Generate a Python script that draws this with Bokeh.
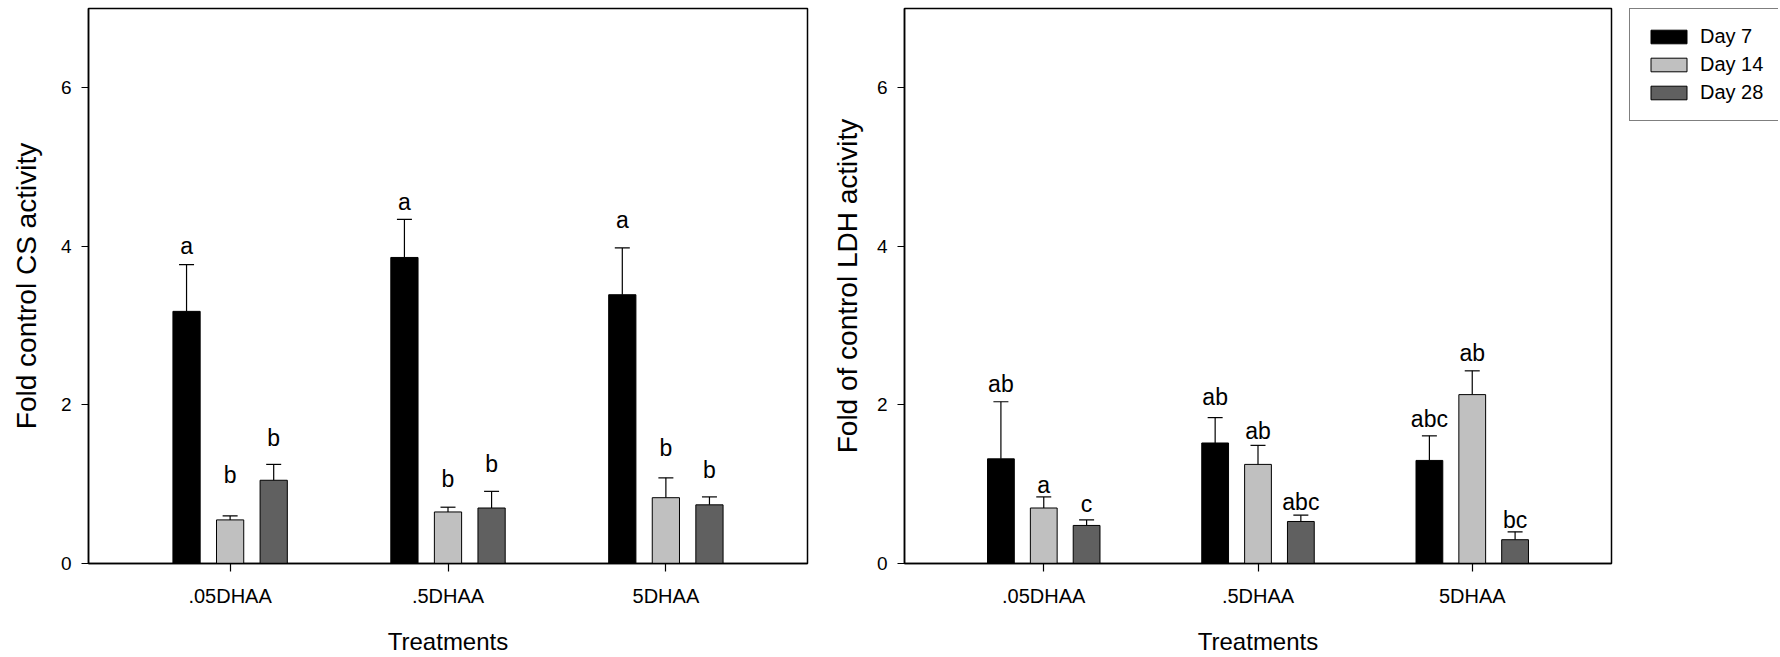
from bokeh.plotting import figure
from bokeh.models import (ColumnDataSource, Whisker, TeeHead, Legend, LegendItem,
                          FixedTicker, Range1d)
from bokeh.layouts import row
from bokeh.embed import file_html
from bokeh.resources import INLINE
from bokeh.core.properties import value

# ---------------- data ----------------
treatments = [".05DHAA", ".5DHAA", "5DHAA"]
days = ["Day 7", "Day 14", "Day 28"]

# CS activity (left panel)
cs_day7 = [3.18, 3.86, 3.39]
cs_day7_err = [0.59, 0.48, 0.59]
cs_day14 = [0.55, 0.65, 0.83]
cs_day14_err = [0.05, 0.06, 0.25]
cs_day28 = [1.05, 0.70, 0.74]
cs_day28_err = [0.20, 0.21, 0.10]
cs_day7_letters = ["a", "a", "a"]
cs_day14_letters = ["b", "b", "b"]
cs_day28_letters = ["b", "b", "b"]
cs_day7_letter_y = [4.01, 4.56, 4.33]
cs_day14_letter_y = [1.12, 1.06, 1.455]
cs_day28_letter_y = [1.58, 1.255, 1.18]

# LDH activity (right panel)
ldh_day7 = [1.32, 1.52, 1.30]
ldh_day7_err = [0.72, 0.32, 0.31]
ldh_day14 = [0.70, 1.25, 2.13]
ldh_day14_err = [0.14, 0.24, 0.30]
ldh_day28 = [0.48, 0.53, 0.30]
ldh_day28_err = [0.07, 0.08, 0.10]
ldh_day7_letters = ["ab", "ab", "abc"]
ldh_day14_letters = ["a", "ab", "ab"]
ldh_day28_letters = ["c", "abc", "bc"]
ldh_day7_letter_y = [2.27, 2.10, 1.82]
ldh_day14_letter_y = [0.99, 1.666, 2.66]
ldh_day28_letter_y = [0.754, 0.774, 0.544]

y_ticks = [0, 2, 4, 6]

# ---------------- styling ----------------
FONT = "Liberation Sans"
colors = ["#000000", "#C0C0C0", "#606060"]
offsets = [-0.2, 0.0, 0.2]
BAR_W = 0.125
group_x = [i + 1 for i in range(len(treatments))]


def make_panel(series, ylabel, width, min_left, min_right, min_top, min_bottom,
               label_standoff):
    p = figure(width=width, height=657,
               x_range=Range1d(0.35, 3.65), y_range=Range1d(0, 7),
               output_backend="svg", toolbar_location=None,
               min_border_left=min_left, min_border_right=min_right,
               min_border_top=min_top, min_border_bottom=min_bottom)
    p.xgrid.visible = False
    p.ygrid.visible = False
    p.outline_line_color = "black"
    p.outline_line_width = 1.5
    p.background_fill_color = "white"
    p.border_fill_color = "white"

    sources = []
    for (mean, err, letters, ly), off, col in zip(series, offsets, colors):
        xs = [g + off for g in group_x]
        src = ColumnDataSource(dict(x=xs, top=mean,
                                    upper=[m + e for m, e in zip(mean, err)],
                                    letters=letters, ly=ly))
        sources.append(src)
        p.vbar(x="x", top="top", bottom=0, width=BAR_W, source=src,
               fill_color=col, line_color="black", line_width=1)
        w = Whisker(base="x", lower="top", upper="upper", source=src,
                    dimension="height", line_color="black", line_width=1.2,
                    upper_head=TeeHead(size=15, line_color="black", line_width=1.2),
                    lower_head=None)
        p.add_layout(w)
        p.text(x="x", y="ly", text="letters", source=src,
               text_align="center", text_baseline="alphabetic",
               text_font=value(FONT), text_font_size="23px", text_color="black")

    # axes
    p.xaxis.ticker = FixedTicker(ticks=group_x)
    p.xaxis.major_label_overrides = {g: t for g, t in zip(group_x, treatments)}
    p.yaxis.ticker = FixedTicker(ticks=y_ticks)
    for ax in (p.xaxis[0], p.yaxis[0]):
        ax.axis_line_color = "black"
        ax.axis_line_width = 1.5
        ax.major_tick_line_color = "black"
        ax.major_tick_line_width = 1.2
        ax.major_tick_in = 0
        ax.minor_tick_line_color = None
        ax.major_label_text_font = FONT
        ax.major_label_text_color = "black"
        ax.axis_label_text_font = FONT
        ax.axis_label_text_font_style = "normal"
        ax.axis_label_text_color = "black"
    p.xaxis.major_label_text_font_size = "20px"
    p.yaxis.major_label_text_font_size = "19px"
    p.xaxis.axis_label_text_font_size = "24px"
    p.yaxis.axis_label_text_font_size = "28px"
    p.xaxis.major_tick_out = 8
    p.yaxis.major_tick_out = 7
    p.xaxis.major_label_standoff = 13
    p.yaxis.major_label_standoff = 10
    p.xaxis.axis_label = "Treatments"
    p.xaxis.axis_label_standoff = 18
    p.yaxis.axis_label = ylabel
    p.yaxis.axis_label_standoff = label_standoff
    return p, sources


p1, _ = make_panel(
    [(cs_day7, cs_day7_err, cs_day7_letters, cs_day7_letter_y),
     (cs_day14, cs_day14_err, cs_day14_letters, cs_day14_letter_y),
     (cs_day28, cs_day28_err, cs_day28_letters, cs_day28_letter_y)],
    "Fold control CS activity", 828, 88, 21, 8, 91, 16)

p2, ldh_sources = make_panel(
    [(ldh_day7, ldh_day7_err, ldh_day7_letters, ldh_day7_letter_y),
     (ldh_day14, ldh_day14_err, ldh_day14_letters, ldh_day14_letter_y),
     (ldh_day28, ldh_day28_err, ldh_day28_letters, ldh_day28_letter_y)],
    "Fold of control LDH activity", 801, 73, 18, 6, 94, 11)

# legend-only panel: its bars share the LDH data but lie outside its (empty) view
p3 = figure(width=149, height=657, x_range=Range1d(-101, -100), y_range=Range1d(-101, -100),
            output_backend="svg", toolbar_location=None,
            x_axis_location=None, y_axis_location=None,
            min_border_left=0, min_border_right=0, min_border_top=0, min_border_bottom=0)
p3.grid.visible = False
p3.outline_line_color = None
legend_renderers = []
for src, col in zip(ldh_sources, colors):
    legend_renderers.append(p3.vbar(x="x", top="top", bottom=0, width=BAR_W, source=src,
                                    fill_color=col, line_color="black", line_width=1))

legend = Legend(items=[LegendItem(label=d, renderers=[r])
                       for d, r in zip(days, legend_renderers)],
                location="top_left", margin=0, padding=16,
                border_line_color="black", border_line_width=1.2,
                background_fill_color="white", background_fill_alpha=1.0,
                label_text_font=FONT, label_text_font_size="20px",
                label_text_color="black", label_standoff=9,
                glyph_width=45, glyph_height=17, label_height=20, spacing=5)
p3.add_layout(legend)

layout = row(p1, p2, p3)
open("out.html", "w").write(file_html(layout, INLINE))
